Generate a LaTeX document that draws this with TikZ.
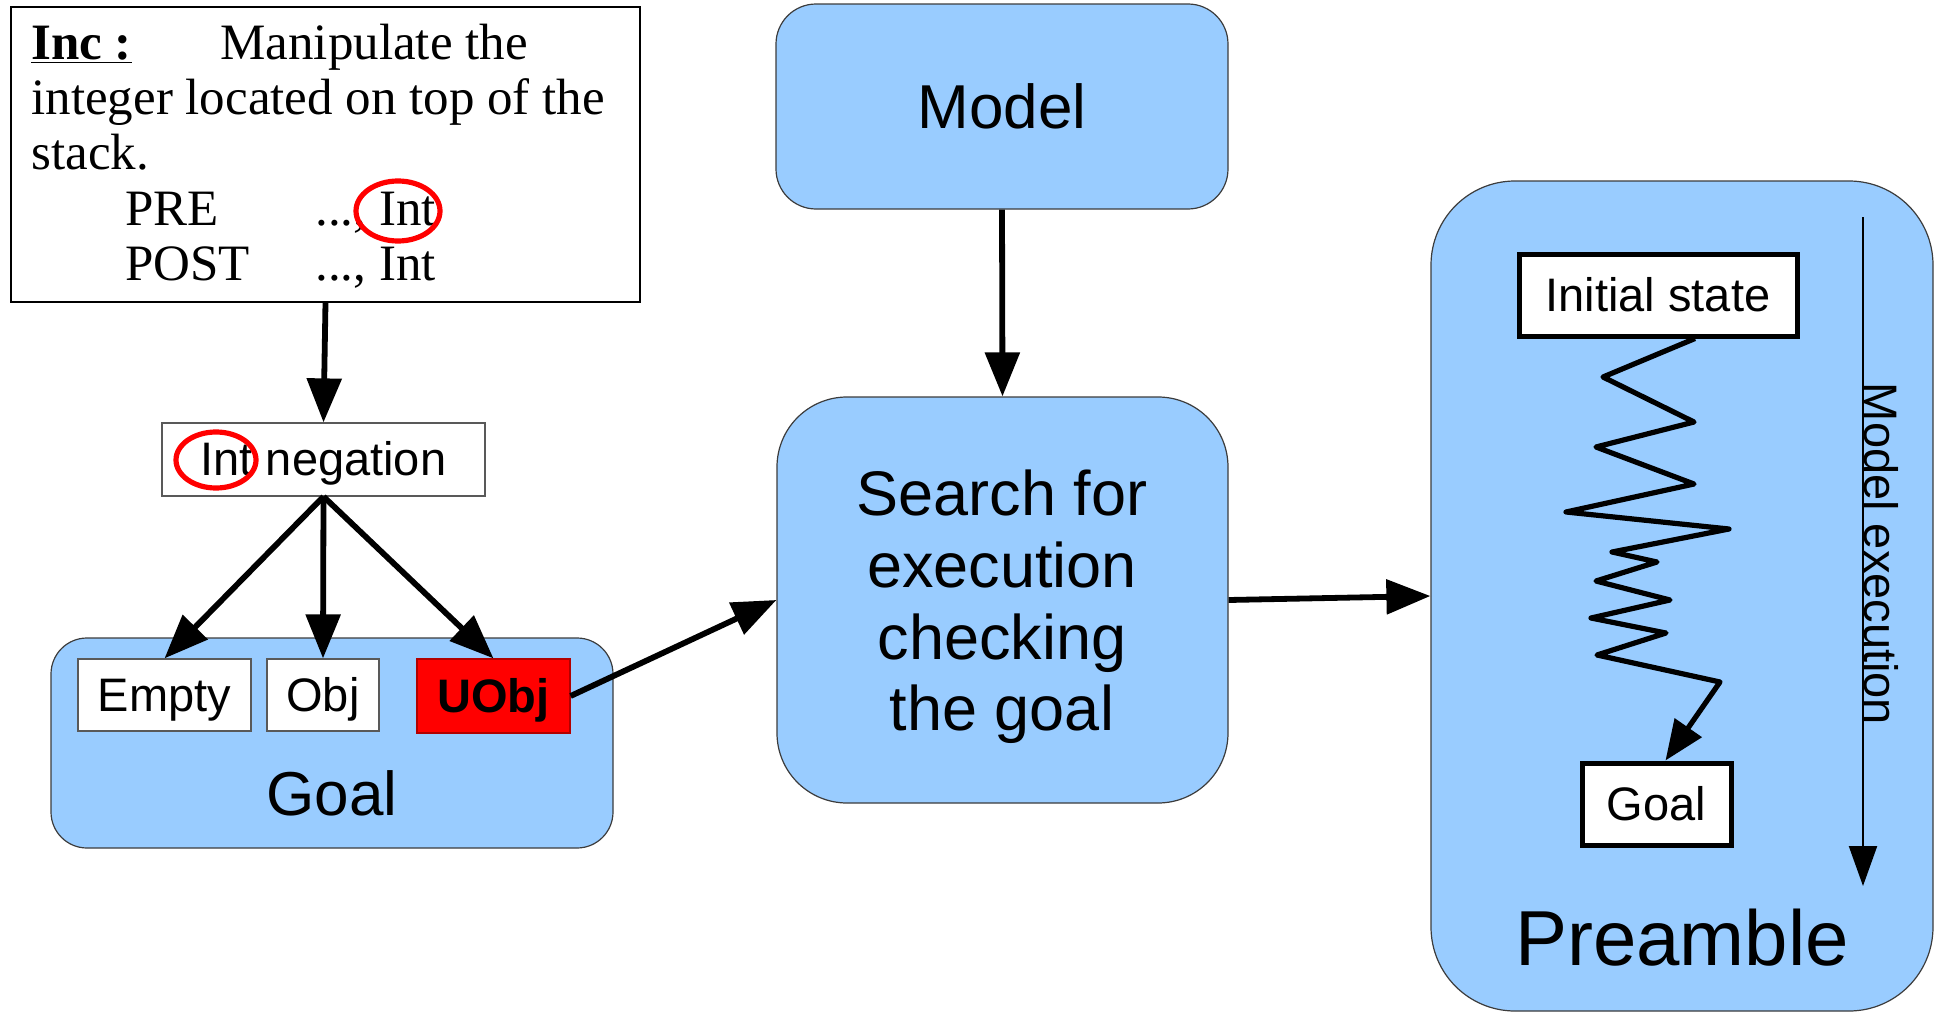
\documentclass[tikz,border=0pt]{standalone}
\usepackage{fontspec}
\setmainfont{Liberation Sans}
\newfontfamily\serifface{Liberation Serif}
\usetikzlibrary{arrows.meta,calc}
\definecolor{paleblue}{RGB}{153,204,255}
\definecolor{edgegray}{RGB}{60,60,60}

\begin{document}
\begin{tikzpicture}[x=0.5pt,y=-0.5pt,
  bluebox/.style={draw=edgegray, line width=0.6pt, fill=paleblue},
  tag/.style={draw=gray!70!black, line width=0.6pt, fill=white, inner sep=0pt,
              text height=21pt, text depth=5pt,
              font=\fontsize{23.5}{28}\selectfont},
  statebox/.style={draw=black, line width=2.5pt, fill=white, inner sep=0pt,
              font=\fontsize{23.5}{28}\selectfont},
  flow/.style={line width=2.9pt, -{Triangle[length=22pt,width=17pt]}},
  ring/.style={draw=red, line width=2.6pt},
  serifline/.style={anchor=base west, inner sep=0pt,
              font=\serifface\fontsize{25.5}{28}\selectfont},
  biglabel/.style={inner sep=0pt, font=\fontsize{31}{35.8}\selectfont, align=center},
]
\useasboundingbox (0,0) rectangle (1935,1012);

% ---------- instruction description ----------
\node[draw=black, line width=0.6pt, minimum width=314.5pt, minimum height=147.5pt,
      inner sep=0pt] (inc) at (325.5,154.5) {};
\node[serifline] (l1a) at (31,59) {\underline{\textbf{Inc :}}};
\node[serifline] (l1b) at (220,59) {Manipulate the};
\node[serifline] (l2) at (31,114) {integer located on top of the};
\node[serifline] (l3) at (31,169) {stack.};
\node[serifline] (pre) at (125,225) {PRE};
\node[serifline] (prev) at (315,225) {...,~Int};
\node[serifline] (post) at (125,280) {POST};
\node[serifline] (postv) at (315,280) {...,~Int};
\draw[ring] (398,211) ellipse [x radius=21pt, y radius=15pt];

% ---------- negation and goal ----------
\node[tag, minimum width=161.5pt, minimum height=36.5pt] (neg) at (323.5,459.5) {Int negation};
\draw[ring] (216,460) ellipse [x radius=20pt, y radius=14pt];

\node[bluebox, rounded corners=18pt, minimum width=281pt, minimum height=105pt] (goalbox) at (332,743) {};
\node[tag, minimum width=86.5pt, minimum height=36pt] (empty) at (164.5,695) {Empty};
\node[tag, minimum width=56pt, minimum height=36pt] (obj) at (323,695) {Obj};
\node[tag, draw=red!70!black, fill=red, minimum width=76.5pt, minimum height=37pt,
      font=\fontsize{23.5}{28}\selectfont\bfseries] (uobj) at (493.5,696) {UObj};
\node[biglabel] (goallbl) at (332,793) {Goal};

\draw[flow] (inc.south) -- (neg.north);
\draw[flow] (neg.south) -- (empty.north);
\draw[flow] (neg.south) -- (obj.north);
\draw[flow] (neg.south) -- (uobj.north);

% ---------- model and search ----------
\node[bluebox, rounded corners=20pt, minimum width=226pt, minimum height=102.5pt,
      font=\fontsize{31}{35.8}\selectfont] (model) at (1002,106.5) {Model};
\node[bluebox, rounded corners=35pt, minimum width=225.5pt, minimum height=203pt,
      inner sep=0pt] (search) at (1002.5,600) {};
\node[biglabel, font=\fontsize{31.5}{35.8}\selectfont] (searchlbl) at (1002,607)
      {Search for\\execution\\checking\\the goal};

\draw[flow] (model.south) -- (search.north);
\draw[flow] (uobj.east) -- (search.west);

% ---------- preamble ----------
\node[bluebox, rounded corners=42pt, minimum width=251pt, minimum height=415pt] (preamble) at (1682,596) {};
\draw[flow] (search.east) -- (preamble.west);

\node[statebox, minimum width=139pt, minimum height=41pt] (init) at (1658,295) {Initial state};
\node[statebox, minimum width=74.5pt, minimum height=41pt] (goalS) at (1656.5,804) {Goal};
\node[inner sep=0pt, font=\fontsize{39}{44}\selectfont] (prelbl) at (1682,938) {Preamble};

% execution path from the initial state to the goal
\draw[line width=2.6pt, line join=round, -{Triangle[length=20pt,width=16pt]}]
  ([xshift=18.5pt]init.south) -- (1603,377) -- (1694,422) -- (1596,447) -- (1694,484)
  -- (1566,512) -- (1729,529) -- (1612,552) -- (1657,562) -- (1596,581) -- (1670,600)
  -- (1591,618) -- (1666,633) -- (1597,655) -- (1720,682) -- ([xshift=4.5pt]goalS.north);

% model execution direction
\coordinate (exectop) at (1863,217);
\coordinate (execbot) at (1863,886);
\draw[line width=1.1pt, -{Triangle[length=20pt,width=14pt]}] (exectop) -- (execbot);
\node[rotate=-90, anchor=base, inner sep=0pt, font=\fontsize{23.5}{28}\selectfont] (execlbl)
  at (1864,554) {Model execution};

\end{tikzpicture}
\end{document}
